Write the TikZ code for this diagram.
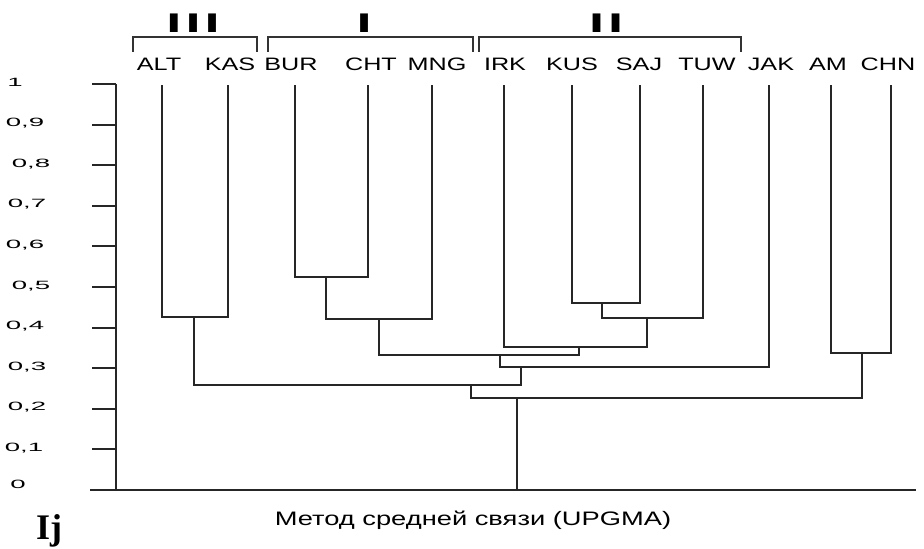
\documentclass[tikz,border=0pt]{standalone}
\usepackage{fontspec}
\setmainfont{Liberation Sans}
\newfontfamily\lblfont[FakeStretch=1.4]{Liberation Sans}
\newfontfamily\tickfont[FakeStretch=2.3]{Liberation Sans}
\newfontfamily\romfont[FakeStretch=2.0]{Liberation Sans}
\newfontfamily\ijfont{Liberation Serif}
\begin{document}
\begin{tikzpicture}[x=1pt,y=-1pt,
  branch/.style={line width=1.9pt,draw=black!85},
  axisline/.style={line width=1.9pt,draw=black!85},
  bracket/.style={line width=1.5pt,draw=black!80},
  leaflabel/.style={anchor=base,inner sep=0pt,font=\lblfont\fontsize{18}{20}\selectfont},
  ticklabel/.style={anchor=base,inner sep=0pt,font=\tickfont\fontsize{12}{13}\selectfont},
  groupname/.style={anchor=base,inner sep=0pt,font=\romfont\bfseries\fontsize{27}{29}\selectfont}]
\useasboundingbox (0,0) rectangle (924,549);

% leaf tips
\foreach \name/\x/\lx in {ALT/162/159, KAS/228/230, BUR/295/291, CHT/368/371, MNG/432/437,
                          IRK/504/505, KUS/572/572, SAJ/640/639, TUW/703/707, JAK/769/771,
                          AM/831/828, CHN/891/888}{
  \coordinate (\name) at (\x,85);
  \node[leaflabel] (lbl\name) at (\lx,70) {\name};
}

% junction points (stem positions and heights)
\coordinate (jAK)   at (194,317);
\coordinate (jBC)   at (326,277);
\coordinate (jBCM)  at (379,319);
\coordinate (jKS)   at (602,303);
\coordinate (jKST)  at (647,318);
\coordinate (jII)   at (579,347);
\coordinate (jIandII) at (500,355);
\coordinate (jJ)    at (521,367);
\coordinate (jIII)  at (471,385);
\coordinate (jAC)   at (862,353);
\coordinate (root)  at (517,398);
\coordinate (base)  at (517,490);

% dendrogram branches
\draw[branch] (ALT) |- (jAK) -| (KAS);
\draw[branch] (BUR) |- (jBC) -| (CHT);
\draw[branch] (jBC) |- (jBCM) -| (MNG);
\draw[branch] (KUS) |- (jKS) -| (SAJ);
\draw[branch] (jKS) |- (jKST) -| (TUW);
\draw[branch] (IRK) |- (jII) -| (jKST);
\draw[branch] (jBCM) |- (jIandII) -| (jII);
\draw[branch] (jIandII) |- (jJ) -| (JAK);
\draw[branch] (jAK) |- (jIII) -| (jJ);
\draw[branch] (AM) |- (jAC) -| (CHN);
\draw[branch] (jIII) |- (root) -| (jAC);
\draw[branch] (root) -- (base);

% axis with ticks
\coordinate (axTop) at (116,84);
\coordinate (axBot) at (116,490);
\coordinate (baseL) at (90,490);
\coordinate (baseR) at (916,490);
\draw[axisline] (axTop) -- (axBot);
\draw[axisline] (baseL) -- (baseR);
\foreach \v/\t/\lx in {1/1/15, 0.9/{0,9}/25, 0.8/{0,8}/31, 0.7/{0,7}/27, 0.6/{0,6}/25,
                      0.5/{0,5}/31, 0.4/{0,4}/25, 0.3/{0,3}/27, 0.2/{0,2}/27, 0.1/{0,1}/24}{
  \pgfmathsetmacro{\yy}{490-406*\v}
  \draw[axisline] (92,\yy) -- (116,\yy);
  \node[ticklabel] at (\lx,\yy+2) {\t};
}
\node[ticklabel] (zero) at (18,488) {0};

% group brackets
\draw[bracket] (133,52) -- (133,37) -- (257,37) -- (257,52);
\draw[bracket] (268,52) -- (268,37) -- (473,37) -- (473,52);
\draw[bracket] (479,52) -- (479,37) -- (741,37) -- (741,52);
\node[groupname] (gIII) at (193,32) {I\kern4pt I\kern4pt I};
\node[groupname] (gI)   at (364,32) {I};
\node[groupname] (gII)  at (606,32) {I\kern4pt I};

% caption
\node[anchor=base,inner sep=0pt,font=\lblfont\fontsize{19.5}{22}\selectfont] (caption) at (473,525)
  {Метод средней связи (UPGMA)};
\node[anchor=base,inner sep=0pt,font=\ijfont\bfseries\fontsize{36}{40}\selectfont] (ij) at (49,539) {Ij};
\end{tikzpicture}
\end{document}
